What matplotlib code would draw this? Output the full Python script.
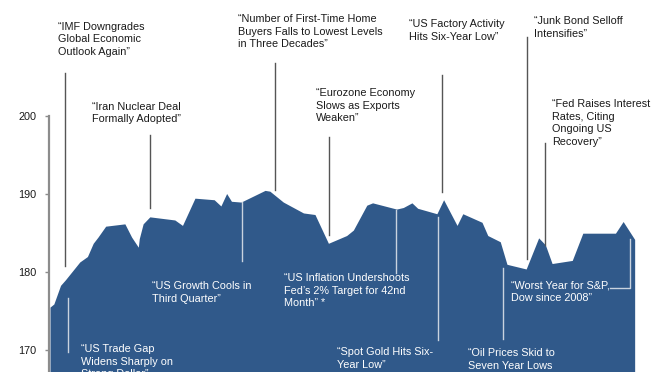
import numpy as np
import matplotlib
matplotlib.use('Agg')
import matplotlib.pyplot as plt

# index level (x = trading day, y = index value)
days = [0.0, 0.4, 1.1, 1.6, 3.1, 3.9, 4.5, 5.0, 5.8, 7.8, 8.5, 9.2, 9.3, 9.7, 10.4,
        13.0, 13.8, 15.1, 17.1, 17.8, 18.4, 18.9, 19.9, 22.4, 22.9, 24.3, 26.4, 27.6,
        29.0, 30.9, 31.6, 33.0, 33.6, 36.1, 36.8, 37.7, 38.3, 40.3, 41.0, 42.4, 43.0,
        45.0, 45.6, 46.9, 47.6, 49.6, 50.9, 51.6, 52.3, 54.4, 55.5, 58.9, 59.7, 60.9]
level = [175.5, 175.9, 178.3, 179.0, 181.3, 182.0, 183.7, 184.5, 185.9, 186.2, 184.5,
         183.2, 184.3, 186.2, 187.1, 186.7, 186.0, 189.5, 189.3, 188.5, 190.1, 189.1,
         189.0, 190.5, 190.4, 189.0, 187.6, 187.4, 183.7, 184.7, 185.4, 188.6, 188.9,
         188.1, 188.3, 188.9, 188.2, 187.5, 189.3, 186.0, 187.5, 186.4, 184.7, 183.9,
         181.0, 180.4, 184.4, 183.5, 181.1, 181.5, 185.0, 185.0, 186.5, 184.2]

yticks = [170, 180, 190, 200]

# headlines above the area: text, text x, text top, line x, line top, line bottom
above = [
    ("\u201cIMF Downgrades\nGlobal Economic\nOutlook Again\u201d", 0.86, 212.18, 1.56, 205.59, 180.78),
    ("\u201cIran Nuclear Deal\nFormally Adopted\u201d", 4.34, 201.90, 10.42, 197.62, 188.24),
    ("\u201cNumber of First-Time Home\nBuyers Falls to Lowest Levels\nin Three Decades\u201d",
     19.61, 213.17, 23.44, 206.88, 190.55),
    ("\u201cEurozone Economy\nSlows as Exports\nWeaken\u201d", 27.71, 203.62, 29.06, 197.36, 184.77),
    ("\u201cUS Factory Activity\nHits Six-Year Low\u201d", 37.40, 212.49, 40.83, 205.33, 190.30),
    ("\u201cJunk Bond Selloff\nIntensifies\u201d", 50.45, 212.92, 49.69, 210.22, 181.68),
    ("\u201cFed Raises Interest\nRates, Citing\nOngoing US\nRecovery\u201d", 52.32, 202.21, 51.56, 196.59, 183.48),
]

# headlines inside the area
inside = [
    ("\u201cUS Trade Gap\nWidens Sharply on\nStrong Dollar\u201d", 3.20, 170.76, 1.88, 176.67, 169.72),
    ("\u201cUS Growth Cools in\nThird Quarter\u201d", 10.59, 178.86, 20.00, 189.01, 181.43),
    ("\u201cUS Inflation Undershoots\nFed\u2019s 2% Target for 42nd\nMonth\u201d *", 24.41, 179.85, 36.04, 187.98, 179.88),
    ("\u201cSpot Gold Hits Six-\nYear Low\u201d", 29.86, 170.33, 40.42, 187.08, 171.27),
    ("\u201cOil Prices Skid to\nSeven Year Lows", 43.57, 170.21, 47.19, 180.53, 171.40),
]
worst_text = "\u201cWorst Year for S&P,\nDow since 2008\u201d"
worst_pos = (47.99, 178.89)
worst_bracket_x = [58.33, 60.42, 60.42]
worst_bracket_y = [177.92, 177.92, 184.25]

plt.rcParams['font.family'] = ['Liberation Sans', 'DejaVu Sans']

fig = plt.figure(figsize=(6.72, 3.72), dpi=100)
ax = fig.add_axes([0, 0, 1, 1])
ax.set_xlim(-5.208, 64.79)
ax.set_ylim(167.16, 214.97)

area_color = '#30598a'
ax.fill_between(days, level, 160, color=area_color, linewidth=0)

fs = 7.8
ls = 1.32
for txt, tx, ty, lx, y0, y1 in above:
    ax.plot([lx, lx], [y0, y1], color='#555555', linewidth=1)
    ax.text(tx, ty, txt, fontsize=fs, color='#1a1a1a', va='top', ha='left', linespacing=ls)

for txt, tx, ty, lx, y0, y1 in inside:
    ax.plot([lx, lx], [y0, y1], color='#c9d3df', linewidth=1)
    ax.text(tx, ty, txt, fontsize=fs, color='white', va='top', ha='left', linespacing=ls)

ax.plot(worst_bracket_x, worst_bracket_y, color='#c9d3df', linewidth=1)
ax.text(worst_pos[0], worst_pos[1], worst_text, fontsize=fs, color='white', va='top',
        ha='left', linespacing=ls)

for s in ['top', 'right', 'bottom']:
    ax.spines[s].set_visible(False)
ax.spines['left'].set_position(('data', -0.1))
ax.spines['left'].set_bounds(160, 200)
ax.spines['left'].set_color('#8c8c8c')
ax.spines['left'].set_linewidth(1.6)
ax.set_xticks([])
ax.set_yticks(yticks)
ax.tick_params(axis='y', length=3, width=1, color='#8c8c8c', pad=6, labelsize=fs, labelcolor='#1a1a1a')

plt.savefig('out.png', dpi=100)
